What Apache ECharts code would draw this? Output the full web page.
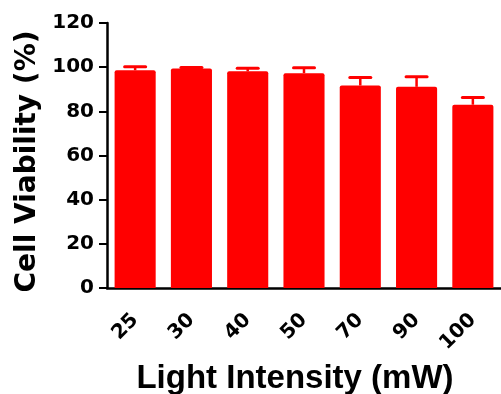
<!DOCTYPE html>
<html>
<head>
<meta charset="utf-8">
<script src="https://cdn.jsdelivr.net/npm/echarts@6/dist/echarts.min.js"></script>
<style>html,body{margin:0;padding:0;background:#fff;}#c{width:501px;height:394px;}</style>
</head>
<body>
<div id="c"></div>
<script>
var categories = ['25', '30', '40', '50', '70', '90', '100'];
var means = [98.6, 99.4, 98.1, 97.3, 91.7, 91.1, 83.0];
var errors = [1.6, 0.4, 1.4, 2.4, 3.6, 4.6, 3.3];
var yTicks = [0, 20, 40, 60, 80, 100, 120];
var xTitle = 'Light Intensity (mW)';
var yTitle = 'Cell Viability (%)';

var chart = echarts.init(document.getElementById('c'), null, {renderer: 'canvas'});
var errData = categories.map(function (c, i) { return [i, means[i], means[i] + errors[i]]; });

chart.setOption({
  animation: false,
  backgroundColor: '#ffffff',
  grid: {left: 107, top: 23, width: 397, height: 265, containLabel: false},
  xAxis: {
    type: 'category',
    data: categories,
    axisLine: {lineStyle: {color: '#000', width: 2.5}},
    axisTick: {alignWithLabel: true, length: 10, lineStyle: {color: '#000', width: 2}},
    axisLabel: {rotate: 45, margin: 29, color: '#000', fontFamily: 'DejaVu Sans', fontWeight: 'bold', fontSize: 20}
  },
  yAxis: {
    type: 'value',
    min: yTicks[0],
    max: yTicks[yTicks.length - 1],
    interval: 20,
    splitLine: {show: false},
    axisLine: {show: true, lineStyle: {color: '#000', width: 2.5}},
    axisTick: {show: true, length: 8, lineStyle: {color: '#000', width: 2}},
    axisLabel: {margin: 13, color: '#000', fontFamily: 'DejaVu Sans', fontWeight: 'bold', fontSize: 20}
  },
  graphic: [
    {type: 'text', x: 295, y: 379, style: {text: xTitle, fill: '#000', font: 'bold 33px "Liberation Sans", Arial', textAlign: 'center', textVerticalAlign: 'middle'}},
    {type: 'text', x: 28, y: 161.5, rotation: Math.PI / 2, style: {text: yTitle, fill: '#000', font: 'bold 28px "DejaVu Sans"', textAlign: 'center', textVerticalAlign: 'middle'}}
  ],
  series: [
    {
      type: 'bar',
      data: means,
      barCategoryGap: '27%',
      itemStyle: {color: '#ff0000', borderRadius: [2, 2, 0, 0]},
      z: 2
    },
    {
      type: 'custom',
      data: errData,
      z: 3,
      renderItem: function (params, api) {
        var x = api.value(0);
        var base = api.coord([x, api.value(1)]);
        var top = api.coord([x, api.value(2)]);
        var hw = 10.5;
        return {
          type: 'group',
          children: [
            {type: 'line', shape: {x1: base[0], y1: base[1], x2: top[0], y2: top[1]}, style: {stroke: '#ff0000', lineWidth: 2.5}},
            {type: 'line', shape: {x1: top[0] - hw, y1: top[1], x2: top[0] + hw, y2: top[1]}, style: {stroke: '#ff0000', lineWidth: 3, lineCap: 'round'}}
          ]
        };
      }
    }
  ]
});
</script>
</body>
</html>
